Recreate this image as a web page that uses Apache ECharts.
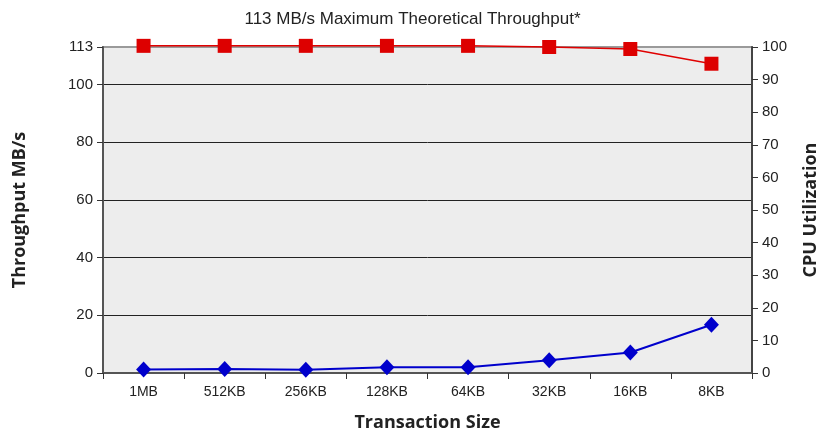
<!DOCTYPE html>
<html>
<head>
<meta charset="utf-8">
<script src="https://cdn.jsdelivr.net/npm/echarts@6/dist/echarts.min.js"></script>
<style>
  html, body { margin: 0; padding: 0; background: #fff; }
  #chart { width: 825px; height: 434px; }
</style>
</head>
<body>
<div id="chart"></div>
<script>
// Transaction sizes along the x axis
const categories = ['1MB', '512KB', '256KB', '128KB', '64KB', '32KB', '16KB', '8KB'];
// Throughput in MB/s (left axis)
const throughput = [113.4, 113.4, 113.4, 113.4, 113.4, 113.0, 112.3, 107.2];
// CPU utilization in percent (right axis)
const cpuUtil = [1.1, 1.2, 1.0, 1.8, 1.8, 3.9, 6.3, 14.8];

const labelFont = { fontFamily: 'Liberation Sans, Arial, sans-serif', fontSize: 15, color: '#222' };
const nameFont = { fontFamily: 'Open Sans, Noto Sans, sans-serif', fontSize: 18, fontWeight: 'bold', color: '#222' };

const chart = echarts.init(document.getElementById('chart'), null, { renderer: 'canvas' });
chart.setOption({
  animation: false,
  title: {
    text: '113 MB/s Maximum Theoretical Throughput*',
    left: 'center',
    top: 6,
    textStyle: { fontFamily: 'Liberation Sans, Arial, sans-serif', fontSize: 17, fontWeight: 'normal', color: '#222' }
  },
  grid: {
    left: 103, right: 73, top: 47, bottom: 61,
    outerBoundsMode: 'none',
    containLabel: false,
    show: true, backgroundColor: '#ededed', borderColor: '#9a9a9a', borderWidth: 2
  },
  xAxis: {
    type: 'category',
    data: categories,
    boundaryGap: true,
    name: 'Transaction Size',
    nameLocation: 'middle',
    nameGap: 41,
    nameTextStyle: nameFont,
    axisLine: { lineStyle: { color: '#555', width: 2 } },
    axisTick: { show: true, length: 6, lineStyle: { color: '#333' } },
    axisLabel: { margin: 12, fontFamily: 'Liberation Sans Narrow, Liberation Sans, Arial, sans-serif', fontSize: 14, color: '#222' },
    splitLine: { show: false }
  },
  yAxis: [
    {
      type: 'value',
      min: 0, max: 113, interval: 20,
      name: 'Throughput MB/s',
      nameLocation: 'middle',
      nameRotate: 90,
      nameGap: 74,
      nameTextStyle: nameFont,
      axisLine: { show: true, lineStyle: { color: '#555', width: 2 } },
      axisTick: { show: true, length: 6, lineStyle: { color: '#333' } },
      axisLabel: Object.assign({ margin: 10 }, labelFont),
      splitLine: { show: true, showMinLine: false, showMaxLine: false, lineStyle: { color: '#222', width: 1 } }
    },
    {
      type: 'value',
      min: 0, max: 100, interval: 10,
      position: 'right',
      name: 'CPU Utilization',
      nameLocation: 'middle',
      nameRotate: 90,
      nameGap: 50,
      nameTextStyle: nameFont,
      axisLine: { show: true, lineStyle: { color: '#444', width: 2 } },
      axisTick: { show: true, length: 6, lineStyle: { color: '#333' } },
      axisLabel: Object.assign({ margin: 10 }, labelFont),
      splitLine: { show: false }
    }
  ],
  series: [
    {
      name: 'Throughput',
      type: 'line',
      yAxisIndex: 0,
      data: throughput,
      clip: false,
      symbol: 'rect',
      symbolSize: 14,
      lineStyle: { color: '#e00000', width: 1.5 },
      itemStyle: { color: '#dd0000' },
      z: 3
    },
    {
      name: 'CPU Utilization',
      type: 'line',
      yAxisIndex: 1,
      data: cpuUtil,
      clip: false,
      symbol: 'diamond',
      symbolSize: [15, 16],
      lineStyle: { color: '#0000cc', width: 2 },
      itemStyle: { color: '#0000cc' },
      z: 4
    }
  ]
});
</script>
</body>
</html>
